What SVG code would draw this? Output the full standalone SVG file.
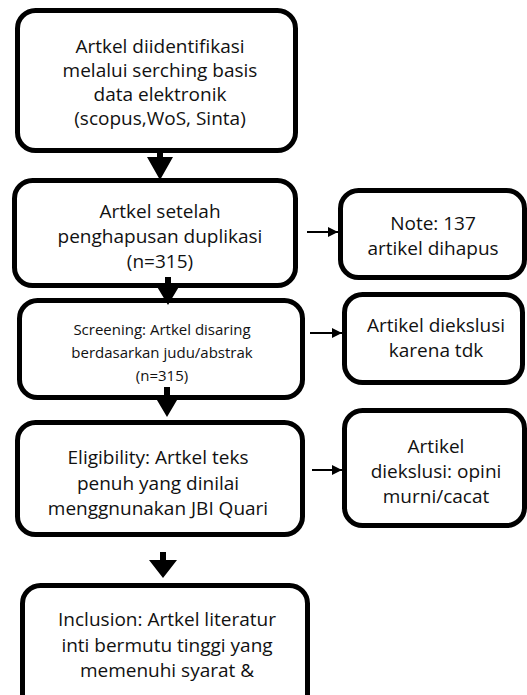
<svg xmlns="http://www.w3.org/2000/svg" width="527" height="695" viewBox="0 0 527 695">
<style>
.box{fill:#fff;stroke:#000;stroke-width:5}
text{font-family:"Open Sans","Noto Sans",sans-serif;font-size:19px;fill:#111;text-anchor:middle}
.sm{font-size:15px}
.ln{stroke:#000;stroke-width:2;fill:none}
</style>
<defs>
<marker id="ah" viewBox="0 0 10 10" refX="10" refY="5" markerWidth="5" markerHeight="6" markerUnits="strokeWidth" orient="auto">
<path d="M0,0 L10,5 L0,10 z" fill="#000"/>
</marker>
</defs>
<rect width="527" height="695" fill="#fff"/>
<g id="n1">
<rect class="box" x="17.5" y="10.5" width="278" height="140" rx="18"/>
<text x="160" y="53">Artkel diidentifikasi</text>
<text x="160" y="77">melalui serching basis</text>
<text x="160" y="101">data elektronik</text>
<text x="160" y="125">(scopus,WoS, Sinta)</text>
</g>
<g id="n2">
<rect class="box" x="14.5" y="180.5" width="281" height="105" rx="18"/>
<text x="160" y="218">Artkel setelah</text>
<text x="160" y="243">penghapusan duplikasi</text>
<text x="160" y="268">(n=315)</text>
</g>
<g id="n3">
<rect class="box" x="19.5" y="300.5" width="283" height="97" rx="18"/>
<text class="sm" x="162" y="335">Screening: Artkel disaring</text>
<text class="sm" x="162" y="358">berdasarkan judu/abstrak</text>
<text class="sm" x="162" y="381">(n=315)</text>
</g>
<g id="n4">
<rect class="box" x="17.5" y="422.5" width="285" height="112" rx="18"/>
<text x="158" y="464">Eligibility: Artkel teks</text>
<text x="158" y="490">penuh yang dinilai</text>
<text x="158" y="515">menggnunakan JBI Quari</text>
</g>
<g id="n5">
<rect class="box" x="22.5" y="585.5" width="285" height="130" rx="18"/>
<text x="167" y="626">Inclusion: Artkel literatur</text>
<text x="167" y="652">inti bermutu tinggi yang</text>
<text x="167" y="677">memenuhi syarat &amp;</text>
</g>
<g id="n6">
<rect class="box" x="340.5" y="190.5" width="184" height="87" rx="18"/>
<text x="433" y="230">Note: 137</text>
<text x="433" y="255">artikel dihapus</text>
</g>
<g id="n7">
<rect class="box" x="344.5" y="294.5" width="178" height="88" rx="18"/>
<text x="436" y="332">Artikel diekslusi</text>
<text x="436" y="357">karena tdk</text>
</g>
<g id="n8">
<rect class="box" x="344.5" y="410.5" width="180" height="115" rx="18"/>
<text x="436" y="453">Artikel</text>
<text x="436" y="478">diekslusi: opini</text>
<text x="436" y="503">murni/cacat</text>
</g>
<g id="connectors">
<path d="M157,150 L163,150 L163,157 L173,157 L160,180 L147,157 L157,157 z" fill="#000"/>
<path d="M165,277 L171,277 L171,285 L180,285 L168,305 L156,285 L165,285 z" fill="#000"/>
<path d="M164,387 L170,387 L170,395 L180,395 L167,417 L154,395 L164,395 z" fill="#000"/>
<path d="M160,552 L166,552 L166,560 L177,560 L163,578 L149,560 L160,560 z" fill="#000"/>
<line class="ln" x1="307" y1="232" x2="338" y2="232" marker-end="url(#ah)"/>
<line class="ln" x1="310" y1="333" x2="342" y2="333" marker-end="url(#ah)"/>
<line class="ln" x1="312" y1="470" x2="342" y2="470" marker-end="url(#ah)"/>
</g>
</svg>
